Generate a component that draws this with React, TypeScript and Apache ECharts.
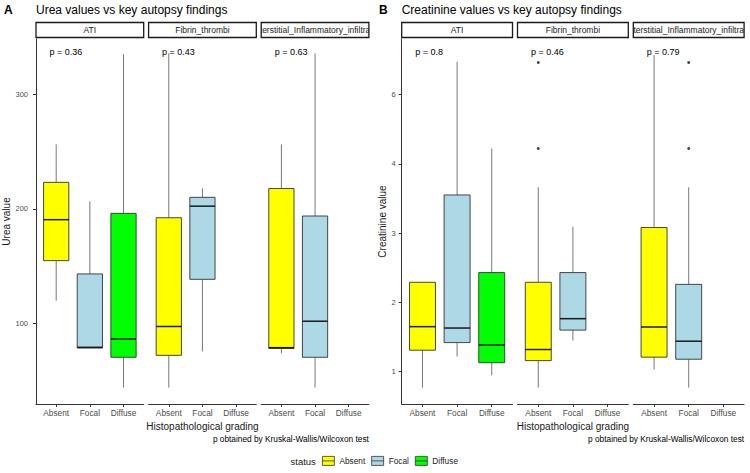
import React, { useEffect, useRef } from "react";
import * as echarts from "echarts";

// ---------- data ----------
const statuses = ["Absent", "Focal", "Diffuse"];
const statusColors = ["#FFFF00", "#ADD8E6", "#00FF00"];
const facets = ["ATI", "Fibrin_thrombi", "Interstitial_Inflammatory_infiltrate"];

// [min, Q1, median, Q3, max] for Absent, Focal, Diffuse (null = no data)
const ureaATI = [
  [119.7, 154.7, 190.5, 223.1, 256.3],
  [78.4, 78.4, 79.0, 143.1, 206.5],
  [43.8, 70.3, 86.3, 196.0, 335.0],
];
const ureaFibrin = [
  [43.8, 72.0, 97.2, 192.2, 335.8],
  [75.5, 138.4, 202.3, 210.0, 217.9],
  null,
];
const ureaInterstitial = [
  [73.8, 78.0, 78.7, 217.7, 256.3],
  [43.8, 70.3, 101.8, 193.7, 335.8],
  null,
];
const ureaOutliers = [[], [], []]; // [status index, value] per facet
const ureaPValues = ["p = 0.36", "p = 0.43", "p = 0.63"];
const ureaTicks = [100, 200, 300];
const ureaTickLabels = ["100", "200", "300"];

const creatATI = [
  [0.77, 1.31, 1.65, 2.29, 2.29],
  [1.22, 1.42, 1.63, 3.55, 5.47],
  [0.95, 1.13, 1.385, 2.43, 4.22],
];
const creatFibrin = [
  [0.77, 1.16, 1.32, 2.29, 3.66],
  [1.45, 1.6, 1.765, 2.43, 3.09],
  null,
];
const creatInterstitial = [
  [1.03, 1.21, 1.645, 3.08, 5.57],
  [0.77, 1.18, 1.44, 2.26, 3.66],
  null,
];
const creatOutliers = [
  [],
  [[0, 5.46], [0, 4.22]],
  [[1, 5.46], [1, 4.22]],
];
const creatPValues = ["p = 0.8", "p = 0.46", "p = 0.79"];
const creatTicks = [1, 2, 3, 4, 5];
const creatTickLabels = ["1", "2", "3", "4", "6"];

// ---------- layout ----------
const FONT = "'Liberation Sans', Arial, Helvetica, sans-serif";
const PLOT_TOP = 39;
const PLOT_BOTTOM = 404;
const panels = [
  {
    letter: "A",
    title: "Urea values vs key autopsy findings",
    yName: "Urea value",
    left: 36,
    facetW: 107.7,
    gap: 4.9,
    yMin: 29.5,
    yMax: 348.3,
    ticks: ureaTicks,
    tickLabels: ureaTickLabels,
    labelMargin: 8,
    yNameGap: 21,
    data: [ureaATI, ureaFibrin, ureaInterstitial],
    outliers: ureaOutliers,
    pValues: ureaPValues,
  },
  {
    letter: "B",
    title: "Creatinine values vs key autopsy findings",
    yName: "Creatinine value",
    left: 401.7,
    facetW: 110.8,
    gap: 5,
    yMin: 0.534,
    yMax: 5.8,
    ticks: creatTicks,
    tickLabels: creatTickLabels,
    labelMargin: 6,
    yNameGap: 12.5,
    data: [creatATI, creatFibrin, creatInterstitial],
    outliers: creatOutliers,
    pValues: creatPValues,
  },
];

function renderBox(params: any, api: any) {
  const x = api.value(0);
  const lo = api.coord([x, api.value(1)]);
  const q1 = api.coord([x, api.value(2)]);
  const md = api.coord([x, api.value(3)]);
  const q3 = api.coord([x, api.value(4)]);
  const hi = api.coord([x, api.value(5)]);
  const w = api.size([0.75, 0])[0];
  const cx = lo[0];
  const color = api.visual("color");
  const wStyle = { stroke: "#555555", lineWidth: 0.8 };
  return {
    type: "group",
    children: [
      { type: "line", shape: { x1: cx, y1: hi[1], x2: cx, y2: q3[1] }, style: wStyle },
      { type: "line", shape: { x1: cx, y1: q1[1], x2: cx, y2: lo[1] }, style: wStyle },
      {
        type: "rect",
        shape: { x: cx - w / 2, y: q3[1], width: w, height: q1[1] - q3[1] },
        style: { fill: color, stroke: "#333333", lineWidth: 0.9 },
      },
      {
        type: "line",
        shape: { x1: cx - w / 2, y1: md[1], x2: cx + w / 2, y2: md[1] },
        style: { stroke: "#1a1a1a", lineWidth: 1.5 },
      },
    ],
  };
}

function buildOption() {
  const grid: any[] = [];
  const xAxis: any[] = [];
  const yAxis: any[] = [];
  const series: any[] = [];
  const graphic: any[] = [];

  panels.forEach((p, pi) => {
    const totalRight = p.left + 3 * p.facetW + 2 * p.gap;
    graphic.push({
      type: "text",
      left: pi === 0 ? 4 : 379,
      top: 4,
      style: { text: p.letter, font: `bold 12px ${FONT}`, fill: "#000" },
    });
    graphic.push({
      type: "text",
      left: p.left,
      top: 4,
      style: { text: p.title, font: `12px ${FONT}`, fill: "#000" },
    });
    graphic.push({
      type: "text",
      x: totalRight,
      y: 439,
      style: {
        text: "p obtained by Kruskal-Wallis/Wilcoxon test",
        font: `8.3px ${FONT}`,
        fill: "#000",
        align: "right",
        verticalAlign: "middle",
      },
    });

    facets.forEach((fname, fi) => {
      const g = pi * 3 + fi;
      const fLeft = p.left + fi * (p.facetW + p.gap);
      grid.push({
        left: fLeft,
        top: PLOT_TOP,
        width: p.facetW,
        height: PLOT_BOTTOM - PLOT_TOP,
        outerBoundsMode: "none",
        containLabel: false,
      });
      xAxis.push({
        type: "value",
        gridIndex: g,
        min: 0.4,
        max: 3.6,
        axisLine: { show: true, onZero: false, lineStyle: { color: "#333333", width: 1 } },
        axisTick: { show: true, customValues: [1, 2, 3], length: 3, lineStyle: { color: "#333333" } },
        axisLabel: {
          customValues: [1, 2, 3],
          formatter: (v: number) => statuses[Math.round(v) - 1],
          color: "#4d4d4d",
          fontSize: 8.3,
          fontFamily: FONT,
          margin: 5,
        },
        splitLine: { show: false },
        name: fi === 1 ? "Histopathological grading" : "",
        nameLocation: "middle",
        nameGap: 15,
        nameTextStyle: { fontSize: 10, color: "#1a1a1a", fontFamily: FONT },
      });
      yAxis.push({
        type: "value",
        gridIndex: g,
        min: p.yMin,
        max: p.yMax,
        show: fi === 0,
        axisLine: { show: true, lineStyle: { color: "#333333", width: 1 } },
        axisTick: { show: true, customValues: p.ticks, length: 3, lineStyle: { color: "#333333" } },
        axisLabel: {
          customValues: p.ticks,
          formatter: (v: number) => {
            const k = p.ticks.findIndex((t) => Math.abs(t - v) < 1e-6);
            return k >= 0 ? p.tickLabels[k] : "";
          },
          color: "#4d4d4d",
          fontSize: 7.5,
          fontFamily: FONT,
          margin: p.labelMargin,
        },
        splitLine: { show: false },
        name: fi === 0 ? p.yName : "",
        nameLocation: "middle",
        nameGap: p.yNameGap,
        nameRotate: 90,
        nameTextStyle: { fontSize: 10, color: "#1a1a1a", fontFamily: FONT },
      });

      const facetData = p.data[fi];
      facetData.forEach((vals: any, si: number) => {
        if (!vals) return;
        series.push({
          type: "custom",
          name: statuses[si],
          xAxisIndex: g,
          yAxisIndex: g,
          itemStyle: { color: statusColors[si] },
          encode: { x: 0, y: [1, 2, 3, 4, 5] },
          data: [[si + 1, ...vals]],
          renderItem: renderBox,
          silent: true,
        });
      });
      const outs = p.outliers[fi];
      if (outs.length) {
        series.push({
          type: "scatter",
          name: "outlier",
          xAxisIndex: g,
          yAxisIndex: g,
          symbolSize: 3,
          itemStyle: { color: "#1a1a1a" },
          data: outs.map((o: number[]) => [o[0] + 1, o[1]]),
          silent: true,
        });
      }

      // strip
      graphic.push({
        type: "rect",
        z: 0,
        shape: { x: fLeft, y: 22.5, width: p.facetW, height: 15 },
        style: { fill: "#ffffff", stroke: "none" },
      });
      graphic.push({
        type: "text",
        z: 1,
        x: fLeft + p.facetW / 2,
        y: 30,
        style: {
          text: fname,
          font: `8.5px ${FONT}`,
          fill: "#1a1a1a",
          align: "center",
          verticalAlign: "middle",
        },
      });
      if (fi === 2) {
        graphic.push({
          type: "rect",
          z: 2,
          shape: { x: fLeft - 16, y: 21, width: 16, height: 18 },
          style: { fill: "#ffffff", stroke: "none" },
        });
        graphic.push({
          type: "rect",
          z: 2,
          shape: { x: fLeft + p.facetW, y: 21, width: 16, height: 18 },
          style: { fill: "#ffffff", stroke: "none" },
        });
      }
      graphic.push({
        type: "rect",
        z: 3,
        shape: { x: fLeft, y: 22.5, width: p.facetW, height: 15 },
        style: { fill: "none", stroke: "#1a1a1a", lineWidth: 1.3 },
      });
      // p-value label
      graphic.push({
        type: "text",
        x: fLeft + 13.5,
        y: 52,
        style: {
          text: p.pValues[fi],
          font: `9px ${FONT}`,
          fill: "#000",
          verticalAlign: "middle",
        },
      });
    });
  });

  graphic.push({
    type: "text",
    x: 290.5,
    y: 461,
    style: { text: "status", font: `9.5px ${FONT}`, fill: "#1a1a1a", verticalAlign: "middle" },
  });

  return {
    animation: false,
    backgroundColor: "#ffffff",
    textStyle: { fontFamily: FONT },
    grid,
    xAxis,
    yAxis,
    series,
    graphic,
    legend: {
      data: statuses.map((name) => ({ name, icon: "path://M0,0H12V9H0Z M0,4.5H12" })),
      left: 322,
      top: 456,
      padding: 0,
      itemWidth: 12,
      itemHeight: 9,
      itemGap: 6,
      selectedMode: false,
      itemStyle: { borderColor: "#333333", borderWidth: 0.8 },
      textStyle: { fontSize: 8.3, color: "#1a1a1a", fontFamily: FONT },
    },
  };
}

export default function App() {
  const ref = useRef<HTMLDivElement>(null);
  useEffect(() => {
    if (!ref.current) return;
    const chart = echarts.init(ref.current, null, { renderer: "svg" });
    chart.setOption(buildOption() as any);
    return () => chart.dispose();
  }, []);
  return (
    <div
      ref={ref}
      style={{ position: "fixed", left: 0, top: 0, width: 750, height: 473, background: "#fff" }}
    />
  );
}
